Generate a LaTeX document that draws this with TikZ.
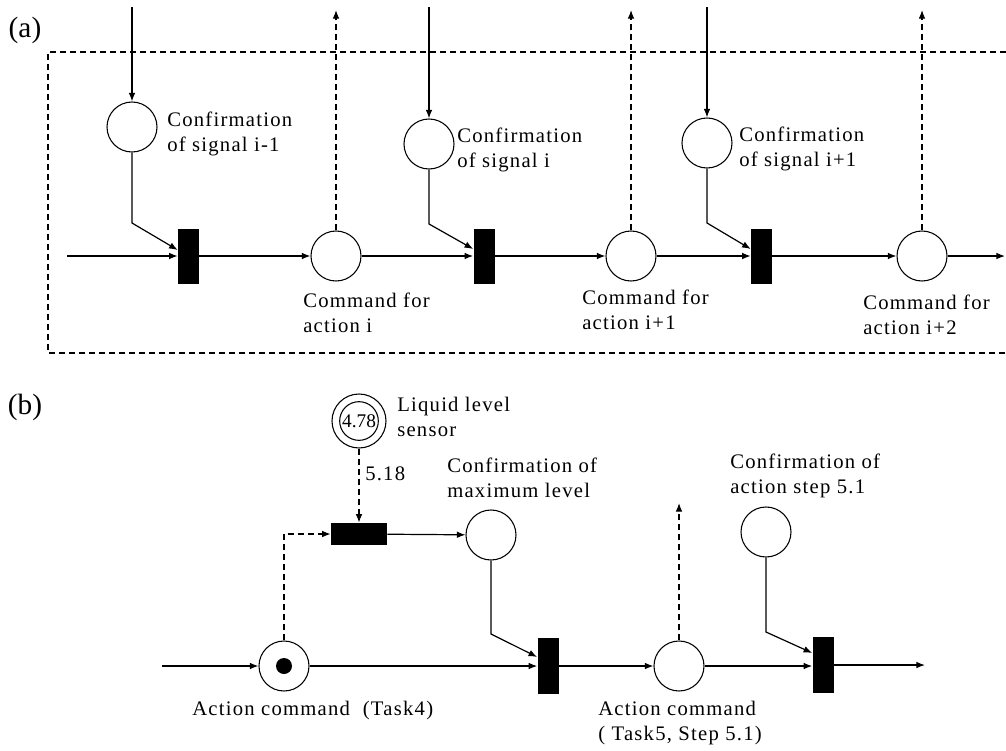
\documentclass[tikz,border=0pt]{standalone}
\usepackage{fontspec}
\setmainfont{Liberation Serif}
\usetikzlibrary{arrows.meta}
\begin{document}
\begin{tikzpicture}[x=0.75pt,y=-0.75pt,
  place/.style={circle,draw,line width=0.8pt,minimum size=37.5pt,inner sep=0pt},
  trans/.style={rectangle,fill=black,draw=none,minimum width=15.75pt,minimum height=41.25pt,inner sep=0pt},
  htrans/.style={rectangle,fill=black,draw=none,minimum width=42pt,minimum height=16.5pt,inner sep=0pt},
  token/.style={circle,fill=black,draw=none,minimum size=12pt,inner sep=0pt},
  arc/.style={line width=0.9pt,-{Latex[length=6.5pt,width=5pt]}},
  darc/.style={arc,dash pattern=on 4.5pt off 3pt},
  frame/.style={line width=0.8pt,dash pattern=on 4.5pt off 3pt},
  lbl/.style={anchor=west,align=left,inner sep=0pt,
    font=\fontsize{15.5}{18.5}\selectfont\addfontfeature{LetterSpace=6}},
  tag/.style={inner sep=0pt,font=\fontsize{22}{26}\selectfont}]
\useasboundingbox (0,0) rectangle (1006,750);

% ---------------- (a) generic sequence ----------------
\node[tag] (taga) at (25,30) {(a)};
\draw[frame] (1006,52) -- (48,52) -- (48,353) -- (1006,353);

\node[place] (s1) at (132,127) {};
\node[place] (s2) at (429,144) {};
\node[place] (s3) at (707,143) {};
\node[place] (c1) at (336,256) {};
\node[place] (c2) at (631,256) {};
\node[place] (c3) at (922,256) {};
\node[trans] (t1) at (188.5,256) {};
\node[trans] (t2) at (484,256) {};
\node[trans] (t3) at (761.5,256) {};

\coordinate (in1) at (132,7);
\coordinate (in2) at (429,7);
\coordinate (in3) at (707,7);
\coordinate (out1) at (336,10);
\coordinate (out2) at (631,10);
\coordinate (out3) at (922,10);
\coordinate (ina) at (67,256);
\coordinate (outa) at (1005,256);

\draw[arc] (in1) -- (s1);
\draw[arc] (in2) -- (s2);
\draw[arc] (in3) -- (s3);
\draw[darc] (c1) -- (out1);
\draw[darc] (c2) -- (out2);
\draw[darc] (c3) -- (out3);

\draw[arc] (ina) -- (t1);
\draw[arc] (t1) -- (c1);
\draw[arc] (c1) -- (t2);
\draw[arc] (t2) -- (c2);
\draw[arc] (c2) -- (t3);
\draw[arc] (t3) -- (c3);
\draw[arc] (c3) -- (outa);

\draw[arc] (s1.south) -- (s1.south |- 0,223) -- (t1.west |- 0,250);
\draw[arc] (s2.south) -- (s2.south |- 0,224) -- (t2.west |- 0,249);
\draw[arc] (s3.south) -- (s3.south |- 0,223) -- (t3.west |- 0,249);

\node[lbl] (ls1) at (167,134) {Confirmation\\of signal i-1};
\node[lbl] (ls2) at (457,150) {Confirmation\\of signal i};
\node[lbl] (ls3) at (739,149) {Confirmation\\of signal i+1};
\node[lbl] (lc1) at (303,313) {Command for\\action i};
\node[lbl] (lc2) at (582,310) {Command for\\action i+1};
\node[lbl] (lc3) at (863,315) {Command for\\action i+2};

% ---------------- (b) tank filling example ----------------
\node[tag] (tagb) at (25,407) {(b)};

\node[place,minimum size=40.5pt] (sen) at (359,421) {};
\node[place,minimum size=29pt,font=\fontsize{14.5}{16}\selectfont] (senin) at (359,421) {4.78};
\node[htrans] (th) at (359,534) {};
\node[place] (mx) at (491,535) {};
\node[place] (task4) at (284,666) {};
\node[token] (tok) at (284,666) {};
\node[trans,minimum height=42pt] (tb2) at (548,666) {};
\node[place] (task5) at (679,666) {};
\node[trans,minimum height=42pt] (tb3) at (823,665) {};
\node[place] (st) at (766,532) {};

\coordinate (inb) at (162,666);
\coordinate (outb) at (925,665);
\coordinate (upb) at (679,503);

\draw[darc] (sen) -- (th);
\draw[darc] (task4.north) -- (task4.north |- th.west) -- (th.west);
\draw[arc] (th) -- (mx);
\draw[arc] (mx.south) -- (mx.south |- 0,634) -- (tb2.west |- 0,657);
\draw[arc] (inb) -- (task4);
\draw[arc] (task4) -- (tb2);
\draw[arc] (tb2) -- (task5);
\draw[darc] (task5) -- (upb);
\draw[arc] (task5.east) -- (tb3.west |- task5.east);
\draw[arc] (tb3.east) -- (outb);
\draw[arc] (st.south) -- (st.south |- 0,632) -- (tb3.west |- 0,653);

\node[lbl] (lsen) at (397,417) {Liquid level\\sensor};
\node[lbl] (lw) at (365,474) {5.18};
\node[lbl] (lmx) at (447,478) {Confirmation of\\maximum level};
\node[lbl] (lst) at (730,476) {Confirmation of\\action step 5.1};
\node[lbl] (l4) at (192,711) {Action command\ \ (Task4)};
\node[lbl] (l5) at (598,723) {Action command\\( Task5, Step 5.1)};
\end{tikzpicture}
\end{document}
